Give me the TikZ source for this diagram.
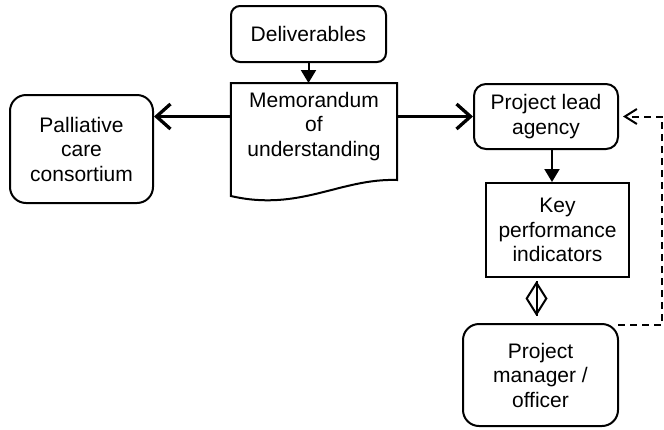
\documentclass[tikz,border=0pt]{standalone}
\usepackage{fontspec}
\setmainfont{Liberation Sans}
\usetikzlibrary{positioning, arrows.meta, calc}

\begin{document}
\begin{tikzpicture}[
            x=1pt, y=-1pt,
            every node/.style={font=\fontsize{21}{24.5}\selectfont, align=center, inner sep=0pt},
            roundbox/.style={draw, line width=2pt, rounded corners=12pt},
            squarebox/.style={draw, line width=2pt},
            flow/.style={line width=2pt, -{Triangle[length=13pt, width=15pt]}},
            mainflow/.style={line width=3.3pt, -{Straight Barb[length=14pt, width=25pt]}},
            feedback/.style={line width=2pt, dash pattern=on 7pt off 5pt, -{Straight Barb[length=12pt, width=15pt]}}
        ]
        \useasboundingbox (0,0) rectangle (664,429);

        % Top box
        \node[roundbox, rounded corners=9pt, minimum width=155pt, minimum height=56pt] (del) at (308.5,34) {Deliverables};

        % Document in the middle
        \node[anchor=north, minimum width=166pt, text width=160pt, inner ysep=9pt] (memo) at (314,83) {Memorandum\\of\\understanding};
        \draw[line width=2pt] (memo.north west) -- (memo.north east) -- ++(0,97)
            .. controls ++(-57,-2) and ++(69,16) .. ($(memo.north west)+(0,113)$) -- cycle;

        % Left side
        \node[roundbox, rounded corners=16pt, minimum width=143pt, minimum height=108pt] (pal) at (81.5,149) {Palliative\\care\\consortium};

        % Right column
        \node[roundbox, minimum width=144pt, minimum height=65pt] (pla) at (546,116.5) {Project lead\\agency};
        \node[squarebox, minimum width=143pt, minimum height=94pt] (kpi) at (557.5,230) {Key\\performance\\indicators};
        \node[roundbox, rounded corners=16pt, minimum width=155pt, minimum height=102pt] (pm) at (540.5,375) {Project\\manager /\\officer};

        % Connectors
        \draw[flow] (del.south) -- (del.south |- memo.north);
        \draw[mainflow] (memo.west |- pla.west) -- (pal.east |- pla.west);
        \draw[mainflow] (memo.east |- pla.west) -- (pla.west);
        \draw[flow] ($(pla.south)+(6,0)$) -- ($(pla.south |- kpi.north)+(6,0)$);
        % diamond between KPI and manager, line drawn through it
        \draw[line width=2pt, shorten <=9pt, -{Diamond[open, length=35pt, width=22pt]}] ($(pm.north)+(-4,0)$) -- ($(pm.north |- kpi.south)+(-4,3)$);
        \draw[line width=2pt] ($(pm.north |- kpi.south)+(-4,3)$) -- ++(0,35);
        \draw[feedback] ($(pm.north east)+(-1,2)$) -- ++(44,0) |- ($(pla.east)+(4,0)$);

    \end{tikzpicture}
\end{document}
